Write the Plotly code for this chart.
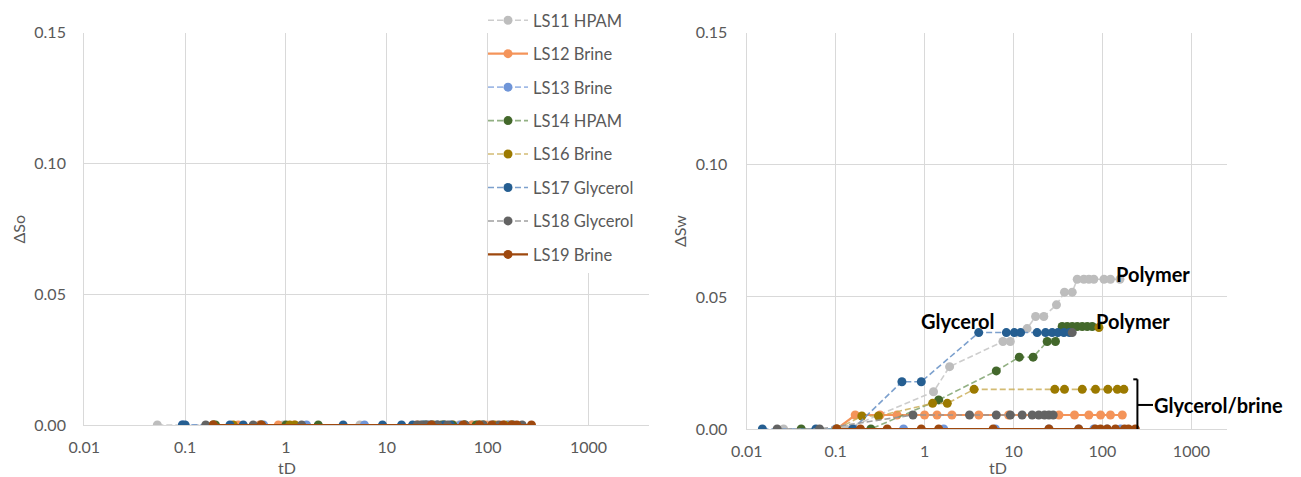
import math
import plotly.graph_objects as go

# ---------------- data ----------------
series_names = ["LS11 HPAM", "LS12 Brine", "LS13 Brine", "LS14 HPAM",
                "LS16 Brine", "LS17 Glycerol", "LS18 Glycerol", "LS19 Brine"]

# Oil saturation change (left panel)
td_so_ls11 = [0.053, 0.55, 0.94, 5.4, 21, 37, 52, 70, 104, 157]
dso_ls11 = [0, 0, 0, 0, 0, 0, 0, 0, 0, 0]
td_so_ls12 = [0.19, 0.336, 0.55, 0.84, 1.2, 20, 45, 70, 95, 123, 167]
dso_ls12 = [0, 0, 0, 0, 0, 0, 0, 0, 0, 0, 0]
td_so_ls13 = [0.094, 0.19, 0.6, 1.6, 6, 25, 54, 80, 113, 160]
dso_ls13 = [0, 0, 0, 0, 0, 0, 0, 0, 0, 0]
td_so_ls14 = [0.2, 0.57, 1.0, 2.09, 24, 35, 45, 59, 77, 90]
dso_ls14 = [0, 0, 0, 0, 0, 0, 0, 0, 0, 0]
td_so_ls16 = [0.19, 0.3, 1.09, 1.23, 29, 37, 59, 83, 115, 147, 174]
dso_ls16 = [0, 0, 0, 0, 0, 0, 0, 0, 0, 0, 0]
td_so_ls17 = [0.094, 0.1, 0.278, 0.377, 3.69, 9.06, 14, 18, 23, 27, 31.5, 37, 42.6]
dso_ls17 = [0, 0, 0, 0, 0, 0, 0, 0, 0, 0, 0, 0, 0]
td_so_ls18 = [0.16, 0.473, 1.43, 20, 22, 25, 28, 32, 40, 60, 90, 130, 180, 220]
dso_ls18 = [0, 0, 0, 0, 0, 0, 0, 0, 0, 0, 0, 0, 0, 0]
td_so_ls19 = [0.19, 0.57, 27.7, 57, 83, 110, 142, 173, 195, 272]
dso_ls19 = [0, 0, 0, 0, 0, 0, 0, 0, 0, 0]

# Water saturation change (right panel); None splits off a lone point
td_sw_ls11 = [0.026, 0.13, 1.26, 1.91, 7.6, 9.2, 14.2, 17.7, 21.9, 30.4, 37.4, 45.7,
              52, 61.7, 70.3, 80, 104, 123, 157]
dsw_ls11 = [0, 0, 0.0141, 0.0236, 0.0331, 0.0331, 0.038, 0.0426, 0.0426, 0.047, 0.0518,
            0.0518, 0.0567, 0.0567, 0.0567, 0.0567, 0.0567, 0.0567, 0.0567]
td_sw_ls12 = [0.103, 0.166, 0.316, 0.49, 1.0, 1.38, 2.03, 4.07, 8.8, 32.4, 48.5, 70.3,
              95.3, 123, 167]
dsw_ls12 = [0, 0.0053, 0.0053, 0.0053, 0.0053, 0.0053, 0.0053, 0.0053, 0.0053, 0.0053,
            0.0053, 0.0053, 0.0053, 0.0053, 0.0053]
td_sw_ls13 = [0.1, 0.156, 0.58, 1.64, 6.25, 25, 54, 80, 113, 160]
dsw_ls13 = [0, 0, 0, 0, 0, 0, 0, 0, 0, 0]
td_sw_ls14 = [0.041, 0.249, 1.44, 6.4, 11.6, 16.6, 23.9, 29.6, 35.2, 40.1, 45.7, 52,
              59.2, 67.4, 76.7]
dsw_ls14 = [0, 0, 0.011, 0.022, 0.0272, 0.0272, 0.0331, 0.0331, 0.0388, 0.0388, 0.0388,
            0.0388, 0.0388, 0.0388, 0.0388]
td_sw_ls16 = [0.103, 0.197, 0.303, 1.23, 1.8, 3.6, 29.1, 37.4, 59.2, 83.5, 115, 147, 174,
              None, 91.2]
dsw_ls16 = [0, 0.0049, 0.0049, 0.0097, 0.0097, 0.015, 0.015, 0.015, 0.015, 0.015, 0.015,
            0.015, 0.015, None, 0.0384]
td_sw_ls17 = [0.015, 0.060, 0.156, 0.556, 0.918, 4.06, 8.3, 10.2, 12, 18.4, 22.9, 27.2,
              31.5, 36.8, 42.6]
dsw_ls17 = [0, 0, 0, 0.0179, 0.0179, 0.0365, 0.0365, 0.0365, 0.0365, 0.0365, 0.0365,
            0.0365, 0.0365, 0.0365, 0.0365]
td_sw_ls18 = [0.022, 0.066, 0.74, 3.2, 6.4, 9.2, 12.5, 16.2, 19.2, 22.3, 25, 27.9,
              None, 45.7]
dsw_ls18 = [0, 0, 0.0053, 0.0053, 0.0053, 0.0053, 0.0053, 0.0053, 0.0053, 0.0053, 0.0053,
            0.0053, None, 0.0365]
td_sw_ls19 = [0.103, 0.19, 0.38, 0.918, 1.44, 5.9, 25, 54, 83, 95, 113, 140, 177, 196, 234]
dsw_ls19 = [0, 0, 0, 0, 0, 0, 0, 0, 0, 0, 0, 0, 0, 0, 0]

x_tick_vals = [0.01, 0.1, 1, 10, 100, 1000]
x_tick_text = ["0.01", "0.1", "1", "10", "100", "1000"]
y_tick_vals = [0, 0.05, 0.10, 0.15]
y_tick_text = ["0.00", "0.05", "0.10", "0.15"]

# ---------------- styling ----------------
W, H = 1301, 477
FONT = "Lato, 'Open Sans', sans-serif"
GRID = "#D9D9D9"
TXT = "#595959"

styles = [
    # marker colour, line colour, dash, line width
    ("#BDBDBD", "rgba(200,200,200,0.9)", "6px,3px", 1.6),
    ("#F4945A", "#F4945A", "solid", 2.2),
    ("#6F95D8", "rgba(111,149,216,0.65)", "6px,3px", 1.6),
    ("#43682B", "rgba(110,150,90,0.75)", "6px,3px", 1.6),
    ("#9C7A00", "rgba(200,170,80,0.8)", "6px,3px", 1.6),
    ("#255E91", "rgba(110,150,200,0.9)", "6px,3px", 1.6),
    ("#636363", "rgba(150,150,150,0.9)", "6px,3px", 1.6),
    ("#9E480E", "#9E480E", "solid", 2.2),
]

left_data = [(td_so_ls11, dso_ls11), (td_so_ls12, dso_ls12), (td_so_ls13, dso_ls13),
             (td_so_ls14, dso_ls14), (td_so_ls16, dso_ls16), (td_so_ls17, dso_ls17),
             (td_so_ls18, dso_ls18), (td_so_ls19, dso_ls19)]
right_data = [(td_sw_ls11, dsw_ls11), (td_sw_ls12, dsw_ls12), (td_sw_ls13, dsw_ls13),
              (td_sw_ls14, dsw_ls14), (td_sw_ls16, dsw_ls16), (td_sw_ls17, dsw_ls17),
              (td_sw_ls18, dsw_ls18), (td_sw_ls19, dsw_ls19)]

fig = go.Figure()

for i, name in enumerate(series_names):
    mcol, lcol, dash, lw = styles[i]
    common = dict(mode="lines+markers",
                  line=dict(color=lcol, dash=dash, width=lw),
                  marker=dict(color=mcol, size=9, line=dict(width=0)),
                  connectgaps=False, name=name)
    x, y = left_data[i]
    fig.add_trace(go.Scatter(x=x, y=y, xaxis="x", yaxis="y", showlegend=True,
                             legendgroup=name, **common))
    x, y = right_data[i]
    fig.add_trace(go.Scatter(x=x, y=y, xaxis="x2", yaxis="y2", showlegend=False,
                             legendgroup=name, **common))


def px_x(p):
    return p / W


def px_y(p):
    return (H - p) / H


axis_common = dict(showgrid=True, gridcolor=GRID, gridwidth=1.3, zeroline=False,
                   showline=True, linecolor=GRID, linewidth=1.3, ticks="",
                   automargin=False,
                   tickfont=dict(family=FONT, size=16, color=TXT))

fig.update_layout(
    width=W, height=H,
    margin=dict(l=0, r=0, t=0, b=0),
    paper_bgcolor="white", plot_bgcolor="white",
    font=dict(family=FONT, color=TXT),
    xaxis=dict(type="log", range=[-2, 3.6], domain=[px_x(84.3), px_x(649)],
               tickvals=x_tick_vals, ticktext=x_tick_text, anchor="y",
               ticklabelstandoff=8, **axis_common),
    yaxis=dict(range=[0, 0.15], domain=[px_y(425), px_y(32.7)],
               tickvals=y_tick_vals, ticktext=y_tick_text, anchor="x",
               ticklabelstandoff=14, **axis_common),
    xaxis2=dict(type="log", range=[-2, 3.4], domain=[px_x(746.7), px_x(1227)],
                tickvals=x_tick_vals, ticktext=x_tick_text, anchor="y2",
                ticklabelstandoff=8, **axis_common),
    yaxis2=dict(range=[0, 0.15], domain=[px_y(429), px_y(32.7)],
                tickvals=y_tick_vals, ticktext=y_tick_text, anchor="x2",
                ticklabelstandoff=15, **axis_common),
    legend=dict(x=px_x(483), xanchor="left", y=1.0 - 3 / H, yanchor="top",
                bgcolor="rgba(0,0,0,0)", borderwidth=0,
                font=dict(family=FONT, size=16.5, color=TXT),
                tracegroupgap=9, itemwidth=40),
)

# white panel behind the legend, hiding the gridlines it overlaps
fig.add_shape(type="rect", xref="paper", yref="paper",
              x0=px_x(490), x1=px_x(652), y0=px_y(273), y1=1.0,
              fillcolor="white", line=dict(width=0), layer="above")

# axis titles
title_font = dict(family=FONT, size=16, color=TXT)
fig.add_annotation(text="tD", x=px_x(287), y=px_y(467), xref="paper", yref="paper",
                   showarrow=False, font=title_font, xanchor="center", yanchor="middle")
fig.add_annotation(text="tD", x=px_x(998), y=px_y(467), xref="paper", yref="paper",
                   showarrow=False, font=title_font, xanchor="center", yanchor="middle")
fig.add_annotation(text="ΔSo", x=px_x(17.5), y=px_y(229), xref="paper", yref="paper",
                   showarrow=False, font=title_font, textangle=-90,
                   xanchor="center", yanchor="middle")
fig.add_annotation(text="ΔSw", x=px_x(679), y=px_y(231), xref="paper", yref="paper",
                   showarrow=False, font=title_font, textangle=-90,
                   xanchor="center", yanchor="middle")

# callouts on the right panel (annotation x on a log axis is given as log10)
label_font = dict(family=FONT, size=20, color="black", weight="bold")
callouts = [("Polymer", 135, 0.0587), ("Polymer", 80, 0.0407),
            ("Glycerol", 0.86, 0.0407), ("Glycerol/brine", 360, 0.0091)]
for text, xv, yv in callouts:
    fig.add_annotation(text=f"<b>{text}</b>", x=math.log10(xv), y=yv, xref="x2", yref="y2",
                       showarrow=False, font=label_font, xanchor="left", yanchor="middle")

# bracket grouping the glycerol / brine curves (shape x uses data values)
bx, bl, br = 247, 222, 370
br_top, br_bot, br_mid = 0.0188, -0.0012, 0.0091
for x0, y0, x1, y1 in [(bx, br_bot, bx, br_top), (bl, br_top, bx, br_top),
                       (bl, br_bot, bx, br_bot), (bx, br_mid, br, br_mid)]:
    fig.add_shape(type="line", x0=x0, y0=y0, x1=x1, y1=y1, xref="x2", yref="y2",
                  line=dict(color="black", width=2))

fig.write_html("out.html")
